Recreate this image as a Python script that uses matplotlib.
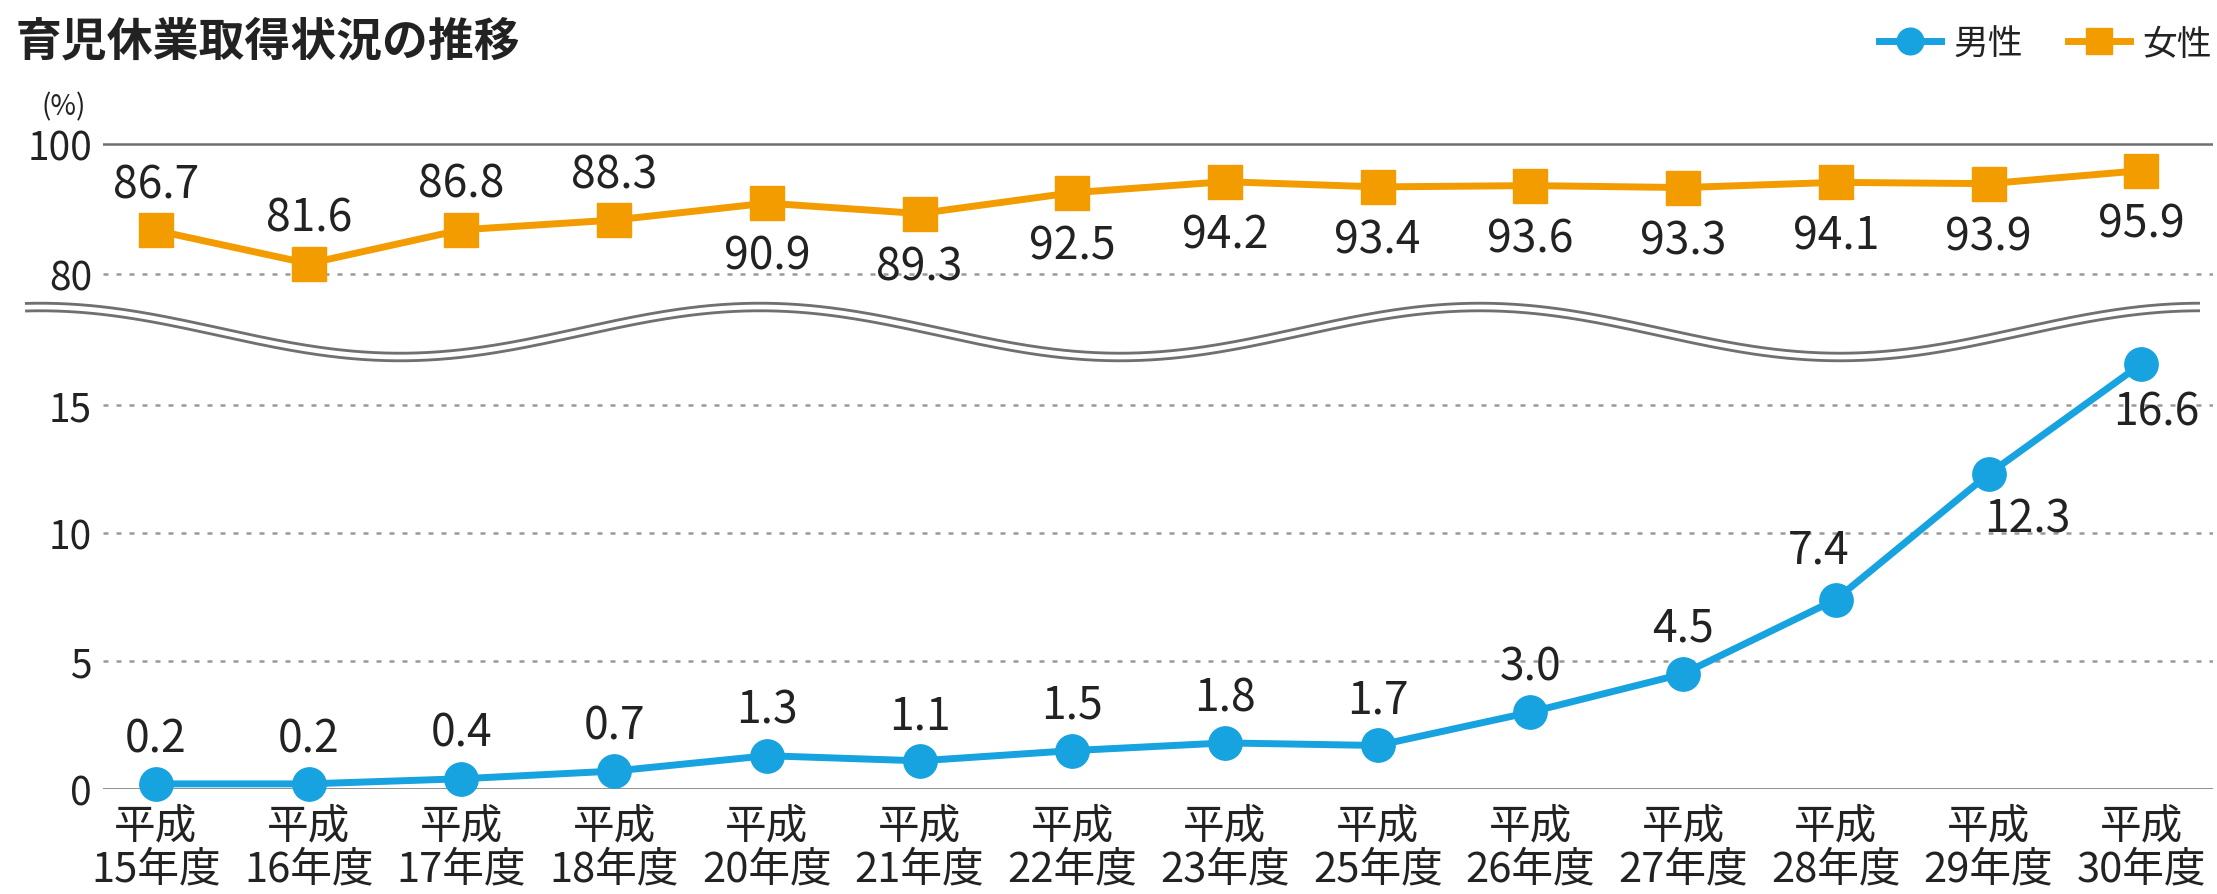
import numpy as np
import matplotlib
matplotlib.use("Agg")
import matplotlib.pyplot as plt

plt.rcParams['font.family'] = ['Noto Sans CJK JP', 'DejaVu Sans']

# data
years = ["15", "16", "17", "18", "20", "21", "22", "23", "25", "26", "27", "28", "29", "30"]
male = [0.2, 0.2, 0.4, 0.7, 1.3, 1.1, 1.5, 1.8, 1.7, 3.0, 4.5, 7.4, 12.3, 16.6]
female = [86.7, 81.6, 86.8, 88.3, 90.9, 89.3, 92.5, 94.2, 93.4, 93.6, 93.3, 94.1, 93.9, 95.9]
xlabels = [f"平成\n{y}年度" for y in years]
top_ticks = [80, 100]
bottom_ticks = [0, 5, 10, 15]

BLUE = "#17A2E0"
ORANGE = "#F39C00"
W, H = 2217, 895

fig = plt.figure(figsize=(W / 100, H / 100), dpi=100)


def px_axes(left, top, right, bottom):
    return fig.add_axes([left / W, 1 - bottom / H, (right - left) / W, (bottom - top) / H])


x = np.arange(len(years))
xlim = (-0.347, 13.47)

ax_top = px_axes(103, 141.75, 2213, 288)
ax_bot = px_axes(103, 329.2, 2213, 790)
ax_top.set_ylim(78, 100.5)
ax_bot.set_ylim(0, 18)

for ax, ticks, solid in [(ax_top, top_ticks, 100), (ax_bot, bottom_ticks, 0)]:
    ax.set_xlim(*xlim)
    for s in ax.spines.values():
        s.set_visible(False)
    for t in ticks:
        if t == solid:
            ax.axhline(t, color="#6e6e6e", lw=1.8, zorder=1)
        else:
            ax.axhline(t, color="#9a9a9a", lw=1.8, ls=(0, (2, 3.2)), zorder=1)
    ax.set_yticks(ticks)
    ax.tick_params(axis="y", length=0, pad=8, labelsize=28, labelcolor="#222222")
    ax.patch.set_alpha(0)

ax_top.set_xticks([])
ax_bot.set_xticks(x)
ax_bot.set_xticklabels(xlabels, fontsize=30, linespacing=1.05, color="#222222")
ax_bot.tick_params(axis="x", length=0, pad=12)

lf, = ax_top.plot(x, female, color=ORANGE, lw=5, marker="s", ms=24, mec=ORANGE,
                  clip_on=False, zorder=3, label="女性")
lm, = ax_bot.plot(x, male, color=BLUE, lw=5, marker="o", ms=24, mec=BLUE,
                  clip_on=False, zorder=3, label="男性")

# value labels
for i, v in enumerate(female):
    dy = 33 if i < 4 else -38
    ax_top.annotate(f"{v:.1f}", (i, v), xytext=(0, dy), textcoords="offset points",
                    ha="center", va="center", fontsize=32, color="#222222", zorder=5)
for i, v in enumerate(male):
    if i == 12:
        dx, dy = 28, -32
    elif i == 13:
        dx, dy = 11, -34
    elif i == 11:
        dx, dy = -12, 36
    else:
        dx, dy = 0, 33
    ax_bot.annotate(f"{v:.1f}", (i, v), xytext=(dx, dy), textcoords="offset points",
                    ha="center", va="center", fontsize=32, color="#222222", zorder=5)

# wavy break between the two panels (decoration, in pixel space)
ax_w = fig.add_axes([0, 0, 1, 1], zorder=0)
ax_w.set_xlim(0, W)
ax_w.set_ylim(H, 0)
ax_w.axis("off")
wx = np.linspace(25, 2200, 600)
wy = 333 - 25 * np.cos(2 * np.pi * (wx - 40) / 720)
ax_w.plot(wx, wy, color="#707070", lw=7.5, solid_capstyle="butt")
ax_w.plot(wx, wy, color="white", lw=3.4, solid_capstyle="butt")

# title, unit, legend
fig.text(16 / W, 1 - 43 / H, "育児休業取得状況の推移", fontsize=33, fontweight="bold",
         ha="left", va="center", color="#222222")
fig.text(64 / W, 1 - 107 / H, "(%)", fontsize=20, ha="center", va="center", color="#222222")
leg = fig.legend(handles=[lm, lf], loc="center right", bbox_to_anchor=(2212 / W, 1 - 45 / H),
                 ncol=2, frameon=False, fontsize=25, markerscale=0.8, handlelength=1.8,
                 handletextpad=0.35, columnspacing=1.3, borderpad=0, borderaxespad=0)
for t in leg.get_texts():
    t.set_color("#222222")

fig.savefig("out.png", dpi=100)
